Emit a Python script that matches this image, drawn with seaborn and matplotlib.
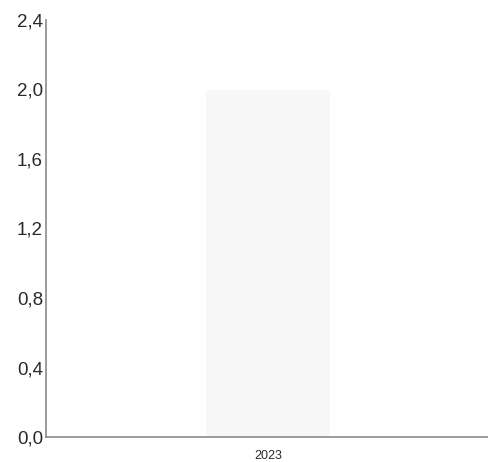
import matplotlib
matplotlib.use("Agg")
import matplotlib.pyplot as plt
import seaborn as sns
import pandas as pd
from matplotlib.ticker import FuncFormatter

categories = ["2023"]
values = [2.0]
yticks = [0.0, 0.4, 0.8, 1.2, 1.6, 2.0, 2.4]

sns.set_theme(style="white")
plt.rcParams['font.family'] = ['Liberation Sans', 'DejaVu Sans']

df = pd.DataFrame({"year": categories, "value": values})

fig = plt.figure(figsize=(4.88, 4.62), dpi=100)
ax = fig.add_axes([0.094, 0.054, 0.905, 0.903])
sns.barplot(data=df, x="year", y="value", color="#f7f7f7", width=0.285,
            saturation=1, ax=ax)
ax.set_xlim(-0.505, 0.5)
ax.set_ylim(0, 2.4)
ax.set_yticks(yticks)
ax.yaxis.set_major_formatter(FuncFormatter(lambda v, p: f"{v:.1f}".replace(".", ",")))
ax.set_xlabel("")
ax.set_ylabel("")
for s in ["top", "right"]:
    ax.spines[s].set_visible(False)
for s in ["left", "bottom"]:
    ax.spines[s].set_color("#8a8a8a")
    ax.spines[s].set_linewidth(1.2)
ax.tick_params(axis="y", labelsize=13.5, colors="#2a2a2a", pad=2, length=0)
ax.tick_params(axis="x", labelsize=9, colors="#2a2a2a", pad=9, length=0)
fig.savefig("out.png", dpi=100)
